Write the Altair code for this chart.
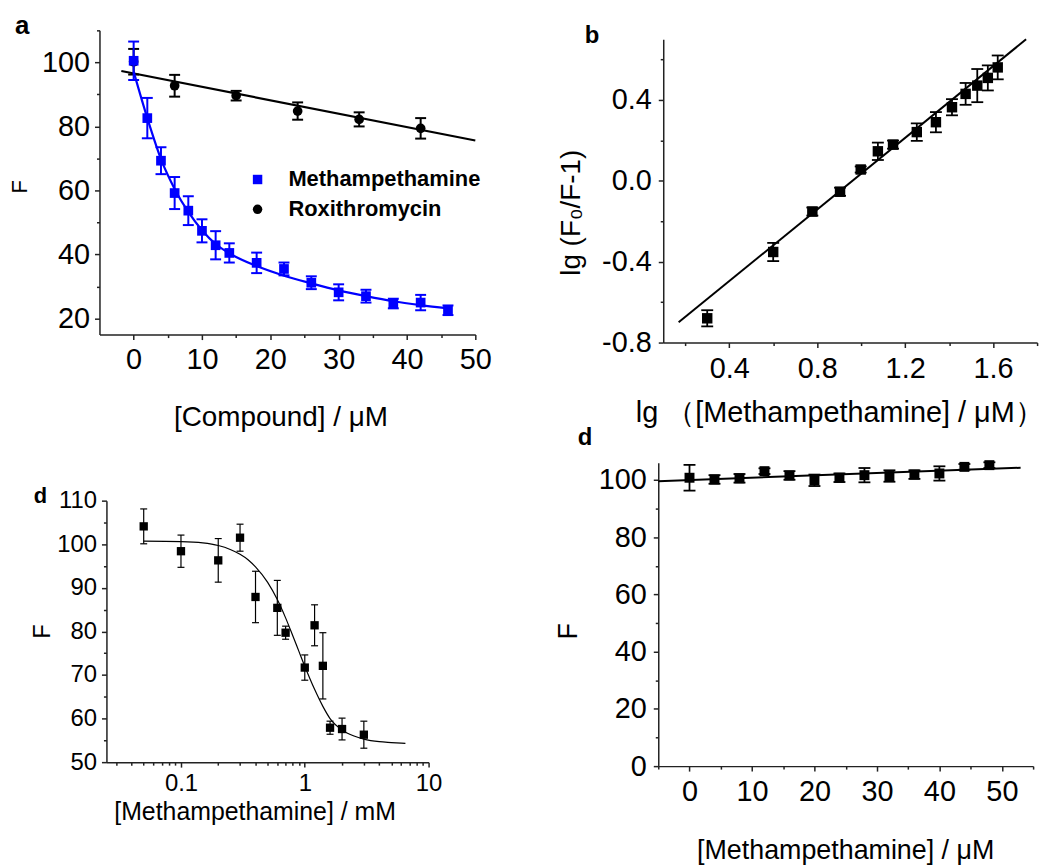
import altair as alt
import pandas as pd

FONT = "Liberation Sans"
BLUE = "#0000ff"
BLACK = "#000000"

# ---------------- Panel a ----------------
series_names = ["Methampethamine", "Roxithromycin"]
meth_x = [0, 2, 4, 6, 8, 10, 12, 14, 18, 22, 26, 30, 34, 38, 42, 46]
meth_y = [100.5, 82.6, 69.3, 59.2, 53.7, 47.4, 42.9, 40.5, 37.4, 35.5, 31.2, 28.2, 27.0, 24.7, 25.0, 22.6]
meth_err = [6.0, 6.3, 4.2, 5.0, 4.5, 3.6, 4.4, 3.0, 3.2, 2.0, 2.0, 2.5, 2.0, 1.5, 2.4, 1.5]
meth_fit_x = [0, 2, 4, 6, 8, 10, 12, 14, 18, 22, 26, 30, 34, 38, 42, 46]
meth_fit_y = [97.1, 82.6, 69.8, 60.5, 53.3, 47.6, 43.3, 40.4, 36.4, 33.4, 31.0, 28.8, 27.0, 25.4, 24.2, 23.2]
rox_x = [0, 6, 15, 24, 33, 42]
rox_y = [100.2, 92.7, 89.6, 84.8, 82.2, 79.4]
rox_err = [4.0, 3.4, 1.5, 2.7, 2.2, 3.2]
rox_fit_x = [-1.8, 50]
rox_fit_y = [97.3, 75.6]

# ---------------- Panel b ----------------
lg_x = [0.30, 0.60, 0.778, 0.904, 0.998, 1.076, 1.145, 1.253, 1.34, 1.413, 1.475, 1.528, 1.576, 1.621]
lg_y = [-0.68, -0.352, -0.152, -0.054, 0.056, 0.146, 0.179, 0.241, 0.29, 0.364, 0.43, 0.471, 0.509, 0.561]
lg_err = [0.04, 0.045, 0.02, 0.02, 0.015, 0.043, 0.02, 0.043, 0.05, 0.04, 0.054, 0.082, 0.062, 0.059]
lg_fit_x = [0.17, 1.75]
lg_fit_y = [-0.70, 0.70]

# ---------------- Panel c ----------------
c_x = [0.05, 0.1, 0.2, 0.3, 0.4, 0.6, 0.7, 1.0, 1.2, 1.4, 1.6, 2.0, 3.0]
c_y = [104.1, 98.4, 96.3, 101.5, 87.9, 85.4, 79.7, 71.7, 81.4, 72.1, 57.9, 57.6, 56.3]
c_err = [4.0, 3.7, 5.0, 3.1, 5.9, 6.3, 1.5, 2.9, 4.7, 7.6, 1.5, 2.5, 3.1]
c_fit_x = [0.05, 0.1, 0.15, 0.2, 0.25, 0.3, 0.35, 0.4, 0.5, 0.6, 0.7, 0.8, 0.9, 1.0, 1.2, 1.4, 1.6, 2.0, 2.5, 3.0, 4.0, 5.0, 6.5]
c_fit_y = [100.7, 100.6, 100.3, 99.7, 98.8, 97.7, 96.4, 94.8, 91.3, 87.3, 83.1, 79.0, 75.3, 72.0, 66.7, 62.8, 60.0, 57.4, 56.0, 55.3, 54.7, 54.5, 54.3]

# ---------------- Panel d ----------------
d_x = [0, 4, 8, 12, 16, 20, 24, 28, 32, 36, 40, 44, 48]
d_y = [100.8, 100.2, 100.6, 103.1, 101.6, 99.9, 100.8, 101.7, 101.4, 101.9, 102.3, 104.6, 105.2]
d_err = [4.5, 1.5, 1.5, 1.0, 1.5, 2.0, 1.5, 2.5, 2.0, 1.5, 2.5, 1.0, 1.0]
d_fit_x = [-5, 53]
d_fit_y = [99.6, 104.3]


def err_frames(xs, ys, es):
    df = pd.DataFrame({"x": xs, "y": ys, "lo": [y - e for y, e in zip(ys, es)],
                       "hi": [y + e for y, e in zip(ys, es)]})
    caps = pd.DataFrame({"x": xs + xs, "y": list(df["lo"]) + list(df["hi"])})
    return df, caps


def make_axis(major, minor, fmt, label_size, label_pad, title, title_size, tx, ty, orient, offset=0):
    values = sorted(major + minor)
    major_js = "[" + ",".join(repr(v) for v in major) + "]"
    test = f"indexof({major_js}, datum.value) >= 0"
    label = f"{test} ? replace(format(datum.value, '{fmt}'), '\u2212', '-') : ''"
    kw = dict(values=values, labelExpr=label,
              tickSize={"condition": {"test": test, "value": 5}, "value": 3},
              labelFlush=False, labelOverlap=False, labelFontSize=label_size,
              labelPadding=label_pad, title=title, titleFontSize=title_size,
              titleX=tx, titleY=ty, titleAlign="center", titleBaseline="middle",
              orient=orient, grid=False)
    kw["titleAngle"] = 270 if orient == "left" else 0
    if offset:
        kw["offset"] = offset
    return alt.Axis(**kw)


def panel(xscale, yscale, xaxis, yaxis, groups, width, height, label, label_kw):
    def X(f):
        return alt.X(f"{f}:Q", scale=xscale, axis=xaxis)

    def Y(f):
        return alt.Y(f"{f}:Q", scale=yscale, axis=yaxis)

    layers = []
    for g in groups:
        df, caps = err_frames(g["x"], g["y"], g["e"])
        fit = pd.DataFrame({"x": g["fx"], "y": g["fy"]})
        layers.append(alt.Chart(fit).mark_line(color=g["color"], strokeWidth=g["lw"],
                                               interpolate="monotone").encode(x=X("x"), y=Y("y")))
        layers.append(alt.Chart(df).mark_rule(color=g["color"], strokeWidth=g["ew"]).encode(
            x=X("x"), y=Y("lo"), y2="hi"))
        layers.append(alt.Chart(caps).mark_tick(orient="horizontal", color=g["color"], size=g["cap"],
                                                thickness=g["ew"], opacity=1).encode(x=X("x"), y=Y("y")))
        if g.get("legend") is not None:
            df["series"] = g["name"]
            layers.append(alt.Chart(df).mark_point(filled=True, opacity=1, size=g["ms"]).encode(
                x=X("x"), y=Y("y"),
                color=alt.Color("series:N", scale=alt.Scale(domain=series_names, range=[BLUE, BLACK]),
                                legend=g["legend"]),
                shape=alt.Shape("series:N", scale=alt.Scale(domain=series_names, range=["square", "circle"]),
                                legend=g["legend"])))
        else:
            layers.append(alt.Chart(df).mark_point(filled=True, opacity=1, size=g["ms"], shape=g["shape"],
                                                   color=g["color"]).encode(x=X("x"), y=Y("y")))
    title = alt.TitleParams(text=label, anchor="start", frame="group", offset=0,
                            baseline="alphabetic", font=FONT, fontWeight="bold", color="black", **label_kw)
    return alt.layer(*layers).properties(width=width, height=height, title=title)


legend_a = alt.Legend(title=None, orient="none", legendX=148, legendY=139, labelFont=FONT,
                      labelFontSize=22, labelFontWeight="bold", labelColor="black", labelLimit=0,
                      symbolSize=90, labelOffset=20, rowPadding=8, symbolStrokeWidth=0)

# panel a
pa = panel(
    alt.Scale(domain=[-5, 50], nice=False, zero=False),
    alt.Scale(domain=[15, 110], nice=False, zero=False),
    make_axis([0, 10, 20, 30, 40, 50], [5, 15, 25, 35, 45], "d", 29, 6,
              "[Compound] / \u03bcM", 28, 182, 83, "bottom"),
    make_axis([20, 40, 60, 80, 100], [30, 50, 70, 90, 110], "d", 29, 5, "F", 22, -80, 157, "left"),
    [
        dict(x=rox_x, y=rox_y, e=rox_err, fx=rox_fit_x, fy=rox_fit_y, color=BLACK, lw=2.2, ew=2,
             cap=11, ms=95, name="Roxithromycin", legend=legend_a),
        dict(x=meth_x, y=meth_y, e=meth_err, fx=meth_fit_x, fy=meth_fit_y, color=BLUE, lw=2.2, ew=2,
             cap=11, ms=95, name="Methampethamine", legend=legend_a),
    ],
    378, 306, "a", dict(fontSize=26, dx=-85, dy=44),
)

# panel b
pb = panel(
    alt.Scale(domain=[0.1, 1.8], nice=False, zero=False, range=[5, 381]),
    alt.Scale(domain=[-0.8, 0.7], nice=False, zero=False, range=[314, 9]),
    make_axis([0.4, 0.8, 1.2, 1.6], [0.2, 0.6, 1.0, 1.4, 1.8], ".1f", 29, 7,
              "lg  \uff08[Methampethamine] / \u03bcM\uff09", 29, 182, 70, "bottom"),
    make_axis([-0.8, -0.4, 0.0, 0.4], [-0.6, -0.2, 0.2, 0.6], ".1f", 29, 7,
              "lg (F\u2080/F-1)", 28, -92, 183, "left", offset=-5),
    [dict(x=lg_x, y=lg_y, e=lg_err, fx=lg_fit_x, fy=lg_fit_y, color=BLACK, lw=2, ew=1.8,
          cap=12, ms=110, shape="square")],
    381, 314, "b", dict(fontSize=24, dx=-74, dy=37),
)

# panel c
pc = panel(
    alt.Scale(type="log", domain=[0.025, 10], nice=False, range=[7, 331]),
    alt.Scale(domain=[50, 110], nice=False, zero=False, range=[301, 38]),
    make_axis([0.1, 1, 10], [0.03, 0.04, 0.05, 0.06, 0.07, 0.08, 0.09, 0.2, 0.3, 0.4, 0.5, 0.6, 0.7,
                              0.8, 0.9, 2, 3, 4, 5, 6, 7, 8, 9], "~g", 24, 5,
              "[Methampethamine] / mM", 25, 156, 50, "bottom"),
    make_axis([50, 60, 70, 80, 90, 100, 110], [55, 65, 75, 85, 95, 105], "d", 24, 5,
              "F", 24, -64, 169, "left", offset=-7),
    [dict(x=c_x, y=c_y, e=c_err, fx=c_fit_x, fy=c_fit_y, color=BLACK, lw=1.2, ew=1.2,
          cap=7, ms=70, shape="square")],
    331, 301, "d", dict(fontSize=22, dx=-66, dy=62),
)

# panel d
pd_ = panel(
    alt.Scale(domain=[-5, 55], nice=False, zero=False),
    alt.Scale(domain=[0, 106], nice=False, zero=False),
    make_axis([0, 10, 20, 30, 40, 50], [-5, 5, 15, 25, 35, 45, 55], "d", 29, 7,
              "[Methampethamine] / \u03bcM", 27, 188, 85, "bottom"),
    make_axis([0, 20, 40, 60, 80, 100], [10, 30, 50, 70, 90], "d", 29, 7, "F", 27, -90, 169, "left"),
    [dict(x=d_x, y=d_y, e=d_err, fx=d_fit_x, fy=d_fit_y, color=BLACK, lw=2, ew=1.8,
          cap=12, ms=100, shape="square")],
    377, 305, "d", dict(fontSize=24, dx=-81, dy=9),
)

chart = alt.concat(pa, pb, pc, pd_, columns=2, spacing={"row": 121, "column": 184},
                   bounds="flush").resolve_scale(
    color="independent", shape="independent"
).properties(
    padding={"left": 1, "top": 3, "right": 5, "bottom": 5}, background="white"
).configure_view(stroke=None).configure_axis(
    labelFont=FONT, titleFont=FONT, labelColor="black", titleColor="black",
    domainColor="#222222", tickColor="#222222", domainWidth=1.5, tickWidth=1.5,
    titleFontWeight="normal"
)

chart.save("out.html", embed_options={"renderer": "svg", "actions": False})
